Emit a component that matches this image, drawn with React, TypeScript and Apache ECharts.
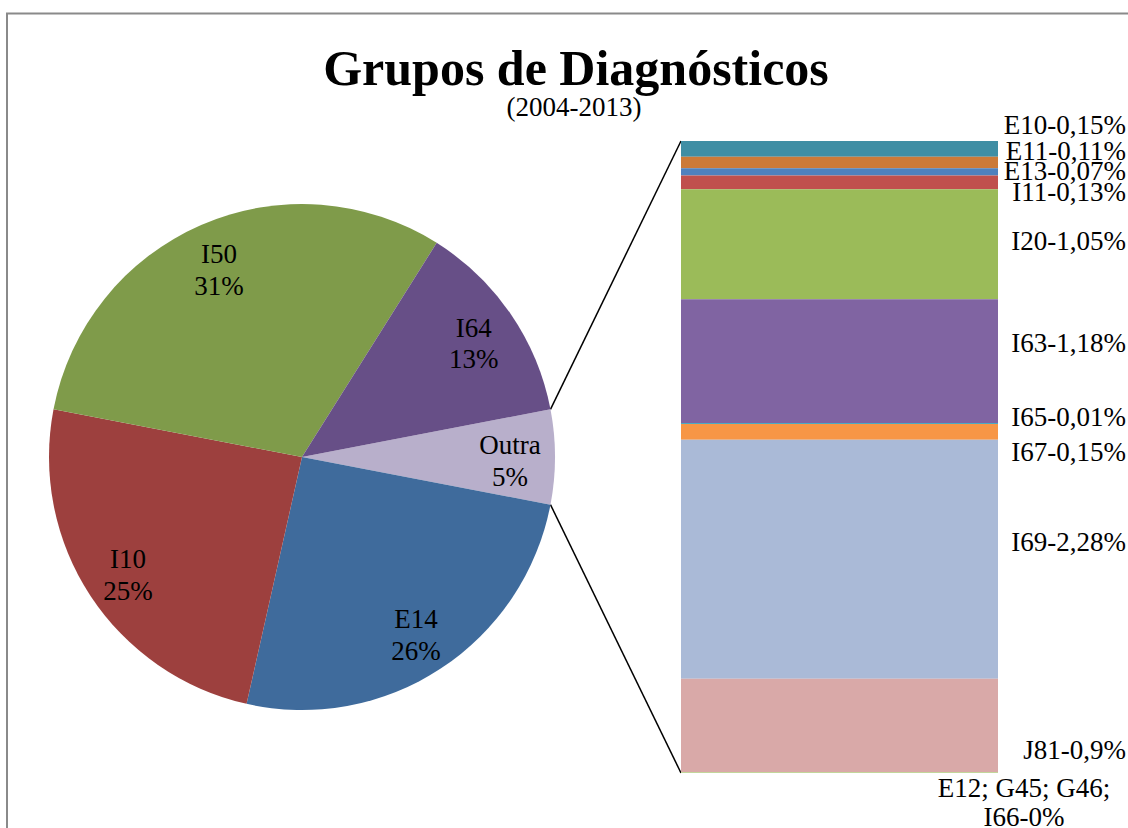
import React, { useEffect, useRef } from "react";
import * as echarts from "echarts";

// Pie (main) data, clockwise from the "Outra" slice
const pieNames = ["Outra", "E14", "I10", "I50", "I64"];
const pieValues = [6.03, 25.5, 24.5, 30.92, 13.05];
const pieLabels = ["5%", "26%", "25%", "31%", "13%"];
const pieColors = ["#b8afcb", "#3f6b9c", "#9d403e", "#7f9b4a", "#674f87"];

// Stacked bar (breakdown of "Outra"), top to bottom
const barNames = ["E10", "E11", "E13", "I11", "I20", "I63", "I65", "I67", "I69", "J81", "E12; G45; G46;\nI66"];
const barValues = [0.15, 0.11, 0.07, 0.13, 1.05, 1.18, 0.01, 0.15, 2.28, 0.9, 0];
const barColors = ["#3f8ea4", "#cc7a38", "#4f81bd", "#c0504d", "#9bbb59", "#8064a2", "#4bacc6", "#f79646", "#aabad7", "#d9a9a8", "#c3d69b"];
// label offsets (layout only)
const barLabelDy = [-23.5, -11, -1, 9.5, -3, -18.5, -6, 20, -17, 24, 29.5];

const FONT = "'Liberation Serif', 'Times New Roman', serif";

export default function App() {
  const ref = useRef<HTMLDivElement>(null);
  useEffect(() => {
    if (!ref.current) return;
    const chart = echarts.init(ref.current, null, { renderer: "svg" });

    const cx = 302, cy = 457, R = 253;
    const gridLeft = 681, gridTop = 141, gridWidth = 317, gridHeight = 632;
    const pieTotal = pieValues.reduce((a, b) => a + b, 0);
    const halfDeg = (pieValues[0] / pieTotal) * 180;
    const halfRad = (halfDeg * Math.PI) / 180;
    const barTotal = barValues.reduce((a, b) => a + b, 0);

    const pieData = pieNames.map((n, i) => ({
      name: n,
      value: pieValues[i],
      itemStyle: { color: pieColors[i] },
    }));

    const barSeries = barNames.map((n, i) => {
      const last = i === barNames.length - 1;
      const valTxt = String(barValues[i]).replace(".", ",");
      return {
        type: "bar",
        name: n,
        stack: "outra",
        data: [barValues[i]],
        barWidth: "100%",
        barMinHeight: last ? 1 : 0,
        clip: false,
        itemStyle: { color: barColors[i] },
        label: {
          show: true,
          position: "right",
          distance: 0,
          align: last ? "center" : "right",
          verticalAlign: "middle",
          offset: last ? [26, barLabelDy[i]] : [128, barLabelDy[i]],
          formatter: () => `${n}-${valTxt}%`,
          fontFamily: FONT,
          fontSize: 27,
          lineHeight: 29,
          color: "#000",
        },
        silent: true,
      };
    });

    const option: any = {
      animation: false,
      backgroundColor: "#ffffff",
      title: [
        {
          text: "Grupos de Diagnósticos",
          left: 571,
          top: 38,
          textAlign: "center",
          textStyle: { fontFamily: FONT, fontSize: 50, fontWeight: "bold", color: "#000", lineHeight: 50 },
        },
        {
          text: "(2004-2013)",
          left: 569,
          top: 88,
          textAlign: "center",
          textStyle: { fontFamily: FONT, fontSize: 27, fontWeight: "normal", color: "#000", lineHeight: 27 },
        },
      ],
      grid: { left: gridLeft, top: gridTop, width: gridWidth, height: gridHeight },
      xAxis: { type: "category", data: ["Outra"], show: false },
      yAxis: { type: "value", min: 0, max: barTotal, inverse: true, show: false },
      series: [
        {
          type: "pie",
          center: [cx, cy],
          radius: R,
          startAngle: halfDeg,
          clockwise: true,
          data: pieData,
          label: { show: false },
          labelLine: { show: false },
          silent: true,
        },
        {
          type: "pie",
          center: [cx, cy],
          radius: [157, R],
          startAngle: halfDeg,
          clockwise: true,
          data: pieNames.map((n, i) => ({ name: n, value: pieValues[i] })),
          itemStyle: { color: "rgba(0,0,0,0)" },
          label: {
            show: true,
            position: "inside",
            formatter: (p: any) => `${p.name}\n${pieLabels[p.dataIndex]}`,
            fontFamily: FONT,
            fontSize: 27,
            lineHeight: 31.5,
            color: "#000",
            align: "center",
            offset: [0, 4],
          },
          labelLine: { show: false },
          silent: true,
          z: 5,
        },
        ...barSeries,
      ],
      graphic: [
        {
          type: "rect",
          shape: { x: 7, y: 13.5, width: 1300, height: 1000 },
          style: { fill: "none", stroke: "#8a8a8a", lineWidth: 2 },
          silent: true,
        },
        {
          type: "line",
          shape: {
            x1: cx + R * Math.cos(halfRad),
            y1: cy - R * Math.sin(halfRad),
            x2: gridLeft,
            y2: gridTop,
          },
          style: { stroke: "#000", lineWidth: 1.5 },
          silent: true,
        },
        {
          type: "line",
          shape: {
            x1: cx + R * Math.cos(halfRad),
            y1: cy + R * Math.sin(halfRad),
            x2: gridLeft,
            y2: gridTop + gridHeight,
          },
          style: { stroke: "#000", lineWidth: 1.5 },
          silent: true,
        },
      ],
    };
    chart.setOption(option);
    return () => chart.dispose();
  }, []);

  return (
    <div
      ref={ref}
      style={{ position: "fixed", left: 0, top: 0, width: 1128, height: 828, background: "#fff" }}
    />
  );
}
